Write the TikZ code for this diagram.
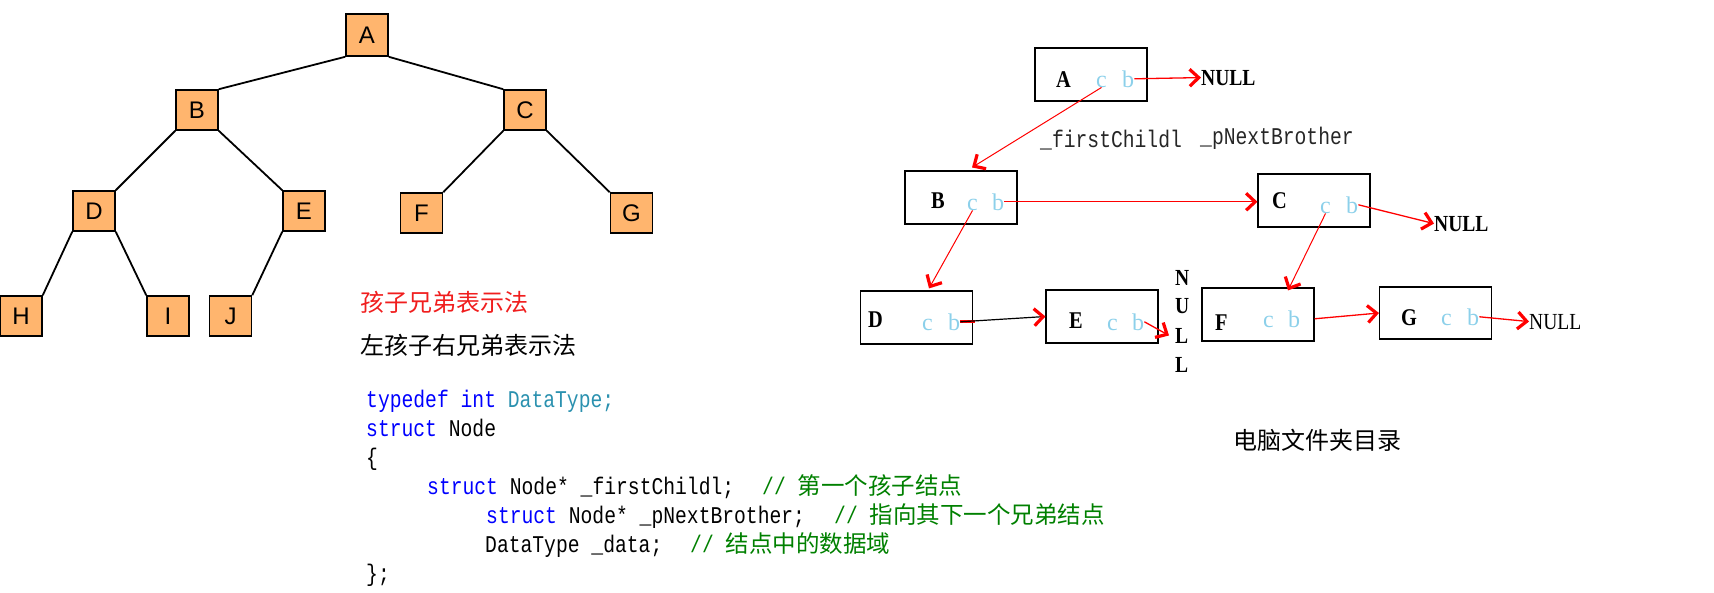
\documentclass[tikz,border=0pt]{standalone}
\usepackage{fontspec}
\usetikzlibrary{arrows.meta}
\newfontfamily\sansf{Liberation Sans}
\newfontfamily\cjk{Noto Sans CJK SC}
\newfontfamily\codef[FakeStretch=0.82]{Liberation Mono}
\newfontfamily\serfs[FakeStretch=0.85]{Liberation Serif}
\newfontfamily\serfn{Liberation Serif}
\definecolor{boxorange}{RGB}{255,181,110}
\definecolor{cbblue}{RGB}{140,208,234}
\definecolor{kwblue}{RGB}{0,0,255}
\definecolor{tyteal}{RGB}{43,145,175}
\definecolor{cmtgreen}{RGB}{0,128,0}
\definecolor{titlered}{RGB}{240,30,30}
\begin{document}
\begin{tikzpicture}[x=1pt,y=-1pt,
  tbox/.style={draw, line width=1.6pt, fill=boxorange, minimum width=42pt, minimum height=40pt, inner sep=0pt, font=\sansf\fontsize{24pt}{24pt}\selectfont},
  tedge/.style={line width=1.8pt, black},
  rbox/.style={draw, line width=1.1pt, minimum width=112pt, minimum height=53pt, inner sep=0pt},
  uplet/.style={inner sep=0pt, anchor=base west, font=\serfs\bfseries\fontsize{24pt}{24pt}\selectfont},
  cblet/.style={inner sep=0pt, anchor=base west, text=cbblue, font=\serfn\fontsize{24pt}{24pt}\selectfont},
  nullb/.style={inner sep=0pt, anchor=base west, font=\serfs\bfseries\fontsize{23pt}{23pt}\selectfont},
  nulln/.style={inner sep=0pt, anchor=base west, font=\serfs\fontsize{23pt}{23pt}\selectfont},
  codetxt/.style={inner sep=0pt, anchor=base west, font=\codef\fontsize{24pt}{24pt}\selectfont},
  cmttxt/.style={inner sep=0pt, anchor=base west, text=cmtgreen, font=\codef\fontsize{24pt}{24pt}\selectfont},
  cjktxt/.style={inner sep=0pt, anchor=west, font=\cjk\fontsize{24pt}{24pt}\selectfont},
  redbarb/.tip={Straight Barb[length=9pt,width=17pt,line width=3.2pt,red]},
  rline/.style={draw=red, line width=1.3pt, -redbarb}
]
\useasboundingbox (0,0) rectangle (1714,592);

% ---------- left binary tree ----------
\node[tbox, minimum height=42pt] (tA) at (367,35) {A};
\node[tbox] (tB) at (197,110) {B};
\node[tbox] (tC) at (525,110) {C};
\node[tbox] (tD) at (94,211) {D};
\node[tbox] (tE) at (304,211) {E};
\node[tbox] (tF) at (421.5,213) {F};
\node[tbox] (tG) at (631.5,213) {G};
\node[tbox] (tH) at (21,316) {H};
\node[tbox] (tI) at (168,316) {I};
\node[tbox] (tJ) at (230.5,316) {J};

\draw[tedge] (tA.south west) -- (tB.north east);
\draw[tedge] (tA.south east) -- (tC.north west);
\draw[tedge] (tB.south west) -- (tD.north east);
\draw[tedge] (tB.south east) -- (tE.north west);
\draw[tedge] (tC.south west) -- (tF.north east);
\draw[tedge] (tC.south east) -- (tG.north west);
\draw[tedge] (tD.south west) -- (tH.north east);
\draw[tedge] (tD.south east) -- (tI.north west);
\draw[tedge] (tE.south west) -- (tJ.north east);

% ---------- titles ----------
\node[cjktxt, text=titlered] (t1) at (360,302) {孩子兄弟表示法};
\node[cjktxt] (t2) at (360,345) {左孩子右兄弟表示法};

% ---------- code ----------
\node[codetxt] (l1) at (366,407) {{\color{kwblue}typedef int }{\color{tyteal}DataType;}};
\node[codetxt] (l2) at (366,436) {{\color{kwblue}struct} Node};
\node[codetxt] (l3) at (366,465) {\{};
\node[codetxt] (l4) at (427,494) {{\color{kwblue}struct} Node* \_firstChildl;};
\node[cmttxt] (c4) at (762,494) {//~{\cjk\fontsize{23.5pt}{24pt}\selectfont 第一个孩子结点}};
\node[codetxt] (l5) at (486,523) {{\color{kwblue}struct} Node* \_pNextBrother;};
\node[cmttxt] (c5) at (834,523) {//~{\cjk\fontsize{23.5pt}{24pt}\selectfont 指向其下一个兄弟结点}};
\node[codetxt] (l6) at (485,552) {DataType \_data;};
\node[cmttxt] (c6) at (690,552) {//~{\cjk\fontsize{23.5pt}{24pt}\selectfont 结点中的数据域}};
\node[codetxt] (l7) at (366,581) {\};};

% ---------- right diagram ----------
\node[rbox] (rA) at (1091,74.5) {};
\node[rbox] (rB) at (961,197.5) {};
\node[rbox] (rC) at (1314,200.5) {};
\node[rbox] (rD) at (916.5,317.5) {};
\node[rbox] (rE) at (1102,316.5) {};
\node[rbox] (rF) at (1258,314.5) {};
\node[rbox, minimum height=52pt] (rG) at (1435.5,313) {};

\node[uplet] (lA) at (1056,87) {A};
\node[cblet] (Ac) at (1096,87) {c};
\node[cblet] (Ab) at (1122,87) {b};
\node[uplet] (lB) at (931,208) {B};
\node[cblet] (Bc) at (967,210) {c};
\node[cblet] (Bb) at (992,210) {b};
\node[uplet] (lC) at (1272,208) {C};
\node[cblet] (Cc) at (1320,213) {c};
\node[cblet] (Cb) at (1346,213) {b};
\node[uplet] (lD) at (868,327) {D};
\node[cblet] (Dc) at (922,330) {c};
\node[cblet] (Db) at (948,330) {b};
\node[uplet] (lE) at (1069,328) {E};
\node[cblet] (Ec) at (1107,330) {c};
\node[cblet] (Eb) at (1132,330) {b};
\node[uplet] (lF) at (1215,330) {F};
\node[cblet] (Fc) at (1263,327) {c};
\node[cblet] (Fb) at (1288,327) {b};
\node[uplet] (lG) at (1401,325) {G};
\node[cblet] (Gc) at (1441,325) {c};
\node[cblet] (Gb) at (1467,325) {b};

\node[nullb] (nA) at (1201,85) {NULL};
\node[nullb] (nC) at (1434,231) {NULL};
\node[nulln] (nG) at (1529,329) {NULL};
\node[nullb] (nE1) at (1175,285) {N};
\node[nullb] (nE2) at (1175,313) {U};
\node[nullb] (nE3) at (1175,343) {L};
\node[nullb] (nE4) at (1175,372) {L};

\node[codetxt, text=black!85] (fc) at (1040,147) {\_firstChildl};
\node[codetxt, text=black!85] (nb) at (1200,144) {\_pNextBrother};
\node[cjktxt] (t3) at (1233,440) {电脑文件夹目录};

% connectors
\draw[rline] (Ab.east) -- (nA.west);
\draw[rline, line width=1pt] (Ac.south) -- ([xshift=11pt,yshift=3pt]rB.north);
\draw[rline] (Bb.east) -- (Bb.east -| rC.west);
\draw[rline] (Cb.east) -- (nC.west);
\draw[rline, line width=1pt] (Bc.south) -- ([xshift=12.5pt,yshift=2pt]rD.north);
\draw[rline, line width=1pt] (Cc.south) -- ([xshift=30pt,yshift=-3pt]rF.north);
\draw[red, line width=3pt] (Db.east) -- ++(15,0);
\draw[black, line width=1.2pt, -redbarb] (Db.east) -- (rE.west);
\draw[rline] (Eb.east) -- ([xshift=-6pt]nE3.west);
\draw[rline] (Fb.east -| rF.east) -- (rG.west);
\draw[rline] (Gb.east) -- (nG.west);
\end{tikzpicture}
\end{document}
